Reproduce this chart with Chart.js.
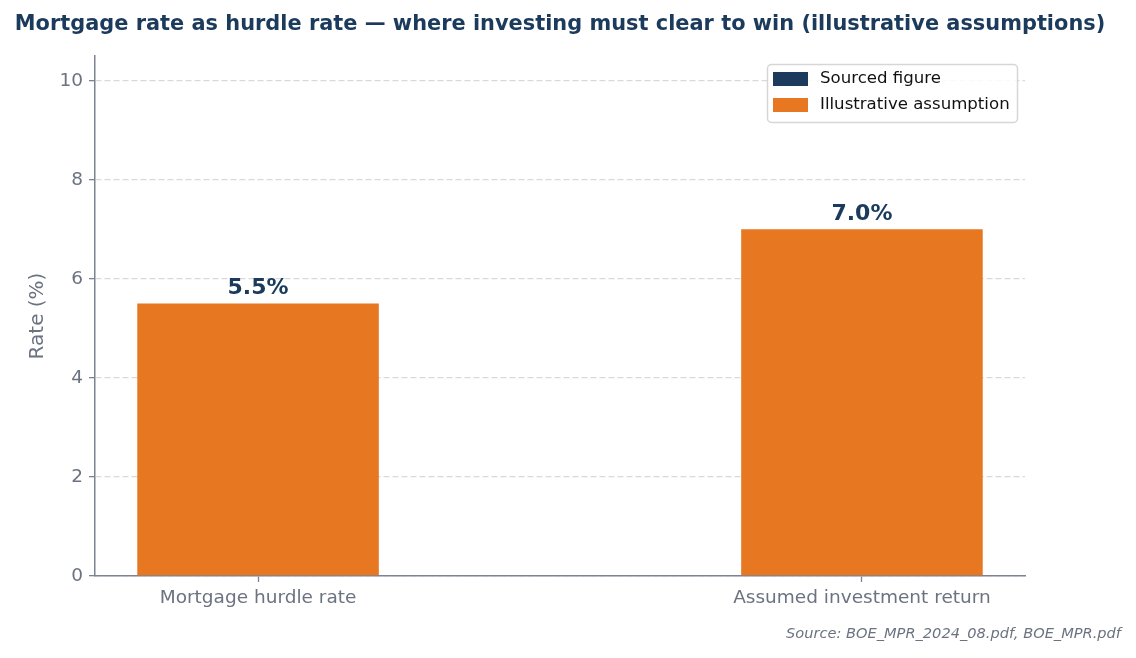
<!DOCTYPE html>
<html><head><meta charset="utf-8">
<script src="https://cdn.jsdelivr.net/npm/chart.js@4.4.0/dist/chart.umd.min.js"></script>
<style>html,body{margin:0;padding:0;background:#fff}#wrap{width:1136px;height:658px}</style>
</head><body><div id="wrap"><canvas id="c" width="1136" height="658"></canvas></div>
<script>
const categories = ["Mortgage hurdle rate", "Assumed investment return"];
const categoryPositions = [0, 1];
const illustrativeValues = [5.5, 7.0];
const sourcedValues = [null, null];
const seriesNames = ["Sourced figure", "Illustrative assumption"];
const yTicks = [0, 2, 4, 6, 8, 10];
const titleText = "Mortgage rate as hurdle rate \u2014 where investing must clear to win (illustrative assumptions)";
const sourceText = "Source: BOE_MPR_2024_08.pdf, BOE_MPR.pdf";

const NAVY = "#1b3a5c", ORANGE = "#e87722", GREY = "#6b7280", AXIS = "#7d8390";
const FONT = "'DejaVu Sans', sans-serif";

const valueLabels = {
  id: 'valueLabels',
  afterDatasetsDraw(chart) {
    const ctx = chart.ctx;
    chart.data.datasets.forEach((ds, di) => {
      const meta = chart.getDatasetMeta(di);
      meta.data.forEach((bar, i) => {
        const v = ds.data[i].y;
        if (v == null) return;
        ctx.save();
        ctx.fillStyle = NAVY;
        ctx.font = "bold 22px " + FONT;
        ctx.textAlign = 'center';
        ctx.textBaseline = 'bottom';
        ctx.fillText(v.toFixed(1) + '%', bar.x, bar.y - 4);
        ctx.restore();
      });
    });
  }
};

const textBlocks = {
  id: 'textBlocks',
  afterDraw(chart) {
    const ctx = chart.ctx;
    ctx.save();
    ctx.fillStyle = NAVY;
    ctx.font = "bold 20.9px " + FONT;
    ctx.textAlign = 'center';
    ctx.textBaseline = 'middle';
    ctx.fillText(titleText, 560, 25);
    ctx.fillStyle = GREY;
    ctx.font = "italic 14.6px " + FONT;
    ctx.textAlign = 'right';
    ctx.fillText(sourceText, 1121, 634);
    ctx.restore();
  }
};

const boxLegend = {
  id: 'boxLegend',
  afterDraw(chart) {
    const ctx = chart.ctx;
    const x0 = 767, y0 = 64, w = 250, h = 58;
    ctx.save();
    ctx.fillStyle = 'rgba(255,255,255,0.85)';
    ctx.strokeStyle = '#d6d6d6';
    ctx.lineWidth = 1.5;
    ctx.beginPath();
    ctx.roundRect(x0 + 0.5, y0 + 0.5, w, h, 4);
    ctx.fill(); ctx.stroke();
    ctx.font = "16.6px " + FONT;
    ctx.textBaseline = 'middle';
    ctx.textAlign = 'left';
    chart.data.datasets.forEach((ds, i) => {
      const cy = y0 + 15 + i * 26;
      ctx.fillStyle = ds.backgroundColor;
      ctx.fillRect(x0 + 6, cy - 7, 35, 14);
      ctx.fillStyle = '#111';
      ctx.fillText(ds.label, x0 + 53, cy);
    });
    ctx.restore();
  }
};

const toPts = (vals) => vals.map((v, i) => ({x: categoryPositions[i], y: v}));

new Chart(document.getElementById('c'), {
  type: 'bar',
  data: {
    datasets: [
      {label: seriesNames[0], data: toPts(sourcedValues), backgroundColor: NAVY, grouped: false, barPercentage: 0.4, categoryPercentage: 1},
      {label: seriesNames[1], data: toPts(illustrativeValues), backgroundColor: ORANGE, grouped: false, barPercentage: 0.4, categoryPercentage: 1}
    ]
  },
  options: {
    responsive: false,
    animation: false,
    devicePixelRatio: 1,
    layout: {padding: {left: 26, right: 111, top: 56, bottom: 34}},
    plugins: {
      legend: {display: false},
      tooltip: {enabled: false},
      title: {display: false},
      subtitle: {display: false}
    },
    scales: {
      x: {
        type: 'linear', min: -0.27, max: 1.27, offset: false,
        afterBuildTicks: (ax) => { ax.ticks = categoryPositions.map(v => ({value: v})); },
        afterFit: (ax) => { ax.height = 48; },
        ticks: {color: GREY, font: {family: FONT, size: 18.5}, padding: 5, autoSkip: false, maxRotation: 0,
          callback: (v) => { const i = categoryPositions.indexOf(v); return i >= 0 ? categories[i] : ''; }},
        grid: {display: true, drawOnChartArea: false, drawTicks: true, tickLength: 6, tickColor: AXIS, tickWidth: 1.3, offset: false},
        border: {display: true, color: AXIS, width: 1.5}
      },
      y: {
        min: 0, max: 10.5,
        afterBuildTicks: (ax) => { ax.ticks = yTicks.map(v => ({value: v})); },
        afterFit: (ax) => { ax.width = 69; },
        ticks: {color: GREY, font: {family: FONT, size: 18.5}, padding: 6},
        title: {display: true, text: 'Rate (%)', color: GREY, font: {family: FONT, size: 20}, padding: {top: 0, bottom: 6}},
        grid: {color: '#d9d9d9', lineWidth: 1.3, tickLength: 6, tickColor: AXIS, tickBorderDash: [], tickWidth: 1.3},
        border: {display: true, color: AXIS, width: 1.5, dash: [6, 3]}
      }
    }
  },
  plugins: [valueLabels, textBlocks, boxLegend]
});
</script></body></html>
